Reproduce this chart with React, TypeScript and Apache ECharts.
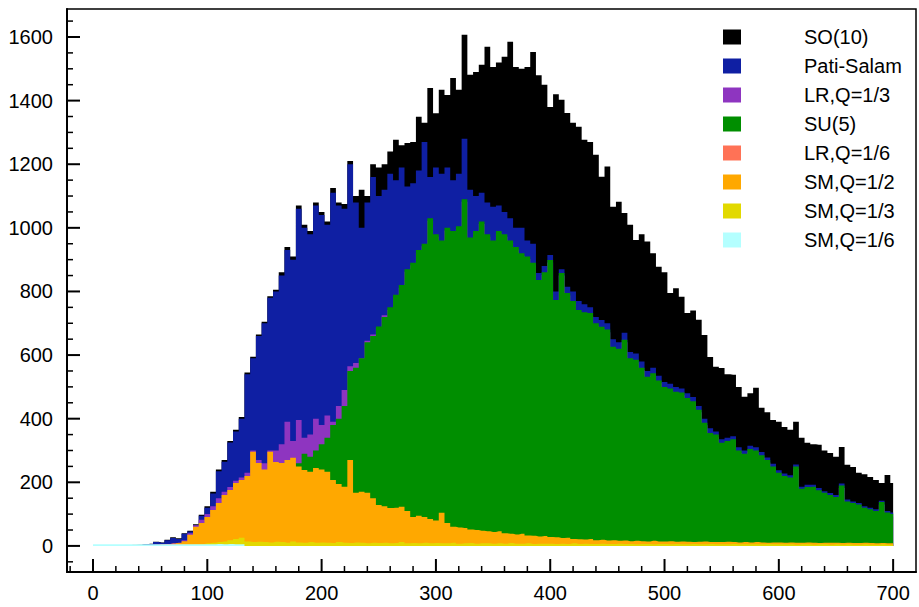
import React, { useEffect, useRef } from "react";
import * as echarts from "echarts";

// Histogram bins: first bin centre and bin width (x units)
const BIN_START = 0;
const BIN_WIDTH = 5;

const seriesNames = ["SO(10)", "Pati-Salam", "LR,Q=1/3", "SU(5)", "LR,Q=1/6", "SM,Q=1/2", "SM,Q=1/3", "SM,Q=1/6"];
const seriesColors = ["#000000", "#0f1fa3", "#8e35c0", "#008e00", "#ff7256", "#ffa800", "#e2d900", "#b4ffff"];

const so10 = [
  0, 0, 0, 0, 0,
  1, 2, 3, 4, 5, 7, 13, 11, 19, 27, 24, 40, 48, 68, 98,
  125, 170, 240, 270, 330, 365, 405, 545, 595, 665,
  705, 785, 805, 860, 940, 910, 1070, 1010, 990, 1080,
  1050, 1020, 1125, 1080, 1075, 1210, 1100, 1120, 1100, 1200,
  1190, 1200, 1240, 1277, 1260, 1267, 1270, 1349, 1330, 1440,
  1360, 1434, 1418, 1471, 1434, 1607, 1481, 1490, 1513, 1569,
  1506, 1520, 1538, 1585, 1506, 1500, 1506, 1553, 1480, 1450,
  1380, 1420, 1403, 1361, 1330, 1318, 1277, 1270, 1230, 1161,
  1193, 1066, 1082, 1047, 1010, 962, 980, 957, 920, 878,
  860, 795, 810, 783, 732, 740, 711, 663, 594, 563,
  559, 540, 538, 500, 469, 480, 497, 434, 420, 396,
  390, 374, 365, 390, 340, 324, 320, 318, 300, 292,
  280, 311, 255, 248, 230, 225, 217, 207, 198, 223,
  198,
];

const patiSalam = [
  0, 0, 0, 0, 0,
  1, 2, 3, 3, 5, 6, 12, 10, 18, 25, 22, 38, 45, 65, 95,
  120, 165, 235, 265, 325, 360, 400, 540, 590, 660,
  700, 780, 800, 850, 930, 900, 1060, 1000, 980, 1070,
  1040, 1010, 1110, 1070, 1060, 1200, 1080, 1000, 1080, 1160,
  1100, 1120, 1170, 1150, 1190, 1130, 1140, 1180, 1270, 1160,
  1190, 1170, 1190, 1150, 1170, 1280, 1120, 1100, 1110, 1080,
  1066, 1070, 1050, 1030, 1000, 1000, 960, 950, 858, 880,
  915, 800, 870, 815, 800, 770, 760, 750, 720, 710,
  700, 650, 640, 670, 610, 605, 580, 550, 560, 535,
  515, 510, 500, 495, 480, 468, 440, 400, 370, 360,
  335, 340, 345, 310, 300, 315, 310, 295, 278, 258,
  238, 228, 222, 256, 186, 192, 192, 182, 172, 166,
  160, 196, 146, 140, 135, 125, 120, 115, 142, 110,
  105,
];

const lrQ13 = [
  0, 0, 0, 0, 0,
  0, 0, 1, 1, 1, 1, 2, 2, 3, 4, 5, 18, 40, 65, 82,
  100, 125, 150, 170, 185, 205, 215, 230, 300, 270,
  260, 300, 300, 320, 390, 330, 396, 340, 350, 400,
  380, 410, 390, 440, 490, 565, 575, 590, 645, 665,
  685, 725, 742, 782, 812, 862, 882, 922, 942, 1022,
  972, 952, 992, 982, 997, 1082, 962, 982, 1012, 972,
  952, 982, 972, 952, 932, 912, 902, 882, 828, 852,
  891, 765, 850, 787, 762, 734, 727, 724, 692, 681,
  672, 618, 612, 640, 582, 577, 552, 524, 535, 512,
  492, 487, 477, 474, 457, 447, 420, 379, 347, 342,
  316, 322, 327, 292, 282, 297, 292, 277, 262, 242,
  222, 212, 207, 242, 172, 177, 178, 167, 159, 152,
  146, 182, 132, 127, 122, 112, 107, 102, 130, 97,
  92,
];

const su5 = [
  0, 0, 0, 0, 0,
  0, 0, 0, 0, 0, 0, 0, 0, 0, 0, 0, 0, 0, 0, 0,
  5, 10, 20, 30, 40, 55, 70, 85, 100, 120,
  140, 160, 180, 200, 220, 240, 260, 290, 280, 300,
  320, 340, 380, 400, 440, 550, 560, 590, 640, 660,
  690, 720, 750, 790, 820, 870, 890, 930, 950, 1030,
  980, 960, 1000, 990, 1005, 1090, 970, 990, 1020, 980,
  960, 990, 980, 960, 940, 920, 910, 890, 836, 860,
  899, 773, 858, 795, 770, 742, 735, 732, 700, 689,
  680, 626, 620, 648, 590, 585, 560, 532, 543, 520,
  500, 495, 485, 482, 465, 455, 428, 387, 355, 350,
  324, 330, 335, 300, 290, 305, 300, 285, 270, 250,
  230, 220, 215, 250, 180, 185, 186, 175, 167, 160,
  154, 190, 140, 135, 130, 120, 115, 110, 138, 105,
  100,
];

const lrQ16 = [
  0, 0, 0, 0, 0,
  0, 2, 4, 3, 2, 3, 4, 5, 6, 8, 10, 12, 14, 18, 20,
  25, 28, 32, 35, 40, 42, 45, 48, 50, 52,
  50, 52, 55, 52, 50, 48, 46, 45, 44, 42,
  40, 38, 36, 35, 34, 33, 31, 30, 29, 28,
  26, 25, 24, 23, 22, 21, 20, 19, 18, 18,
  17, 16, 15, 15, 14, 14, 13, 13, 12, 12,
  11, 11, 10, 10, 10, 9, 9, 9, 8, 8,
  8, 8, 7, 7, 7, 7, 6, 6, 6, 6,
  6, 6, 5, 5, 5, 5, 5, 5, 5, 5,
  4, 4, 4, 4, 4, 4, 4, 4, 4, 4,
  4, 4, 4, 4, 3, 3, 3, 3, 3, 3,
  3, 3, 3, 3, 3, 3, 3, 3, 3, 3,
  3, 3, 2, 2, 2, 2, 2, 2, 2, 2,
  2,
];

const smQ12 = [
  0, 0, 0, 0, 0,
  0, 0, 0, 0, 0, 0, 0, 0, 0, 3, 8, 15, 35, 60, 72,
  91, 113, 135, 160, 176, 198, 207, 220, 296, 261,
  240, 296, 264, 261, 270, 277, 250, 239, 233, 245,
  240, 233, 207, 195, 186, 270, 167, 170, 167, 150,
  129, 125, 119, 120, 123, 110, 91, 95, 91, 85,
  80, 104, 72, 60, 58, 56, 52, 50, 48, 46,
  44, 46, 40, 38, 36, 38, 33, 32, 30, 31,
  28, 27, 25, 26, 22, 21, 20, 22, 18, 19,
  17, 18, 16, 17, 15, 16, 15, 14, 16, 14,
  14, 15, 13, 14, 13, 12, 13, 14, 12, 12,
  12, 13, 12, 11, 12, 11, 12, 11, 10, 11,
  11, 10, 11, 10, 10, 11, 10, 9, 10, 10,
  10, 9, 10, 9, 9, 10, 9, 8, 9, 8,
  8,
];

const smQ13 = [
  0, 0, 0, 0, 0,
  0, 0, 0, 0, 0, 0, 0, 0, 0, 1, 2, 3, 4, 5, 6,
  8, 10, 12, 14, 18, 22, 26, 14, 12, 13,
  12, 11, 13, 12, 10, 14, 11, 10, 12, 10,
  11, 10, 9, 12, 10, 9, 11, 10, 8, 10,
  9, 10, 8, 9, 12, 8, 9, 8, 10, 8,
  9, 8, 8, 10, 7, 8, 9, 7, 8, 8,
  7, 8, 7, 9, 7, 7, 8, 6, 7, 7,
  7, 6, 7, 6, 8, 6, 7, 6, 6, 7,
  6, 6, 7, 6, 6, 5, 6, 6, 5, 6,
  6, 5, 6, 5, 5, 6, 5, 5, 6, 5,
  5, 5, 6, 5, 5, 5, 5, 5, 6, 5,
  5, 5, 5, 4, 5, 5, 4, 5, 5, 4,
  5, 4, 5, 4, 4, 5, 4, 4, 5, 4,
  4,
];

const smQ16 = [
  5, 5, 5, 5, 5,
  5, 5, 5, 5, 5, 5, 5, 5, 5, 5, 5, 5, 5, 5, 5,
  5, 5, 6, 5, 6, 5, 5, 0, 0, 0,
  0, 0, 0, 0, 0, 0, 0, 0, 0, 0,
  0, 0, 0, 0, 0, 0, 0, 0, 0, 0,
  0, 0, 0, 0, 0, 0, 0, 0, 0, 0,
  0, 0, 0, 0, 0, 0, 0, 0, 0, 0,
  0, 0, 0, 0, 0, 0, 0, 0, 0, 0,
  0, 0, 0, 0, 0, 0, 0, 0, 0, 0,
  0, 0, 0, 0, 0, 0, 0, 0, 0, 0,
  0, 0, 0, 0, 0, 0, 0, 0, 0, 0,
  0, 0, 0, 0, 0, 0, 0, 0, 0, 0,
  0, 0, 0, 0, 0, 0, 0, 0, 0, 0,
  0, 0, 0, 0, 0, 0, 0, 0, 0, 0,
  0,
];

const seriesValues = [so10, patiSalam, lrQ13, su5, lrQ16, smQ12, smQ13, smQ16];

const xTickValues = [0, 100, 200, 300, 400, 500, 600, 700];
const yTickValues = [0, 200, 400, 600, 800, 1000, 1200, 1400, 1600];
const xMinorStep = 20;
const yMinorStep = 50;

const X_MIN = -22.75;
const X_MAX = 720;
const Y_MIN = -82;
const Y_MAX = 1688;

const FONT = "'Liberation Sans', Arial, Helvetica, sans-serif";

function minorValues(min: number, max: number, step: number, majors: number[]) {
  const out: number[] = [];
  for (let v = Math.ceil(min / step) * step; v < max; v += step) {
    if (!majors.includes(v)) out.push(v);
  }
  return out;
}

export default function App() {
  const ref = useRef<HTMLDivElement>(null);
  useEffect(() => {
    if (!ref.current) return;
    const chart = echarts.init(ref.current, null, { renderer: "svg" });
    const xMinor = minorValues(X_MIN, X_MAX - 1, xMinorStep, xTickValues);
    const yMinor = minorValues(Y_MIN, Y_MAX - 1, yMinorStep, yTickValues);

    const series = seriesNames.map((name, si) => ({
      name,
      type: "line",
      step: "middle",
      symbol: "none",
      silent: true,
      color: seriesColors[si],
      itemStyle: { color: seriesColors[si] },
      lineStyle: { width: 0, color: seriesColors[si] },
      areaStyle: { color: seriesColors[si], opacity: 1 },
      data: seriesValues[si].map((v, i) => [BIN_START + i * BIN_WIDTH, v]),
    }));

    const labelStyle = { color: "#000", fontFamily: FONT, fontSize: 20 };

    chart.setOption({
      animation: false,
      backgroundColor: "#ffffff",
      grid: {
        left: 67,
        top: 9,
        right: 3,
        bottom: 35,
        show: true,
        borderColor: "#000",
        borderWidth: 1.5,
        backgroundColor: "transparent",
      },
      legend: {
        data: seriesNames,
        orient: "vertical",
        left: 723,
        top: 27,
        padding: 0,
        itemWidth: 18,
        itemHeight: 15,
        itemGap: 9,
        icon: "rect",
        selectedMode: false,
        formatter: (name: string) => `{t|${name}}`,
        textStyle: {
          ...labelStyle,
          rich: { t: { ...labelStyle, lineHeight: 20, padding: [0, 0, 0, 58] } },
        },
      },
      xAxis: {
        type: "value",
        min: X_MIN,
        max: X_MAX,
        position: "bottom",
        axisLine: { show: true, onZero: false, lineStyle: { color: "#000", width: 2 } },
        axisTick: { show: false },
        axisLabel: {
          show: true,
          customValues: xTickValues,
          formatter: (v: number) => String(v),
          ...labelStyle,
          margin: 11,
        },
        splitLine: { show: false },
      },
      yAxis: {
        type: "value",
        min: Y_MIN,
        max: Y_MAX,
        position: "left",
        axisLine: { show: true, onZero: false, lineStyle: { color: "#000", width: 2 } },
        axisTick: { show: false },
        axisLabel: {
          show: true,
          customValues: yTickValues,
          formatter: (v: number) => String(v),
          ...labelStyle,
          margin: 14,
        },
        splitLine: { show: false },
      },
      series,
    });

    // Inward-pointing ticks placed through the axes' own scales
    const gx0 = chart.convertToPixel({ xAxisIndex: 0 }, X_MIN) as number;
    const gy0 = chart.convertToPixel({ yAxisIndex: 0 }, Y_MIN) as number;
    const ticks: any[] = [];
    const addX = (vals: number[], len: number, w: number) =>
      vals.forEach((v) => {
        const px = chart.convertToPixel({ xAxisIndex: 0 }, v) as number;
        ticks.push({ type: "line", silent: true, z: 50, shape: { x1: px, y1: gy0, x2: px, y2: gy0 - len }, style: { stroke: "#000", lineWidth: w } });
      });
    const addY = (vals: number[], len: number, w: number) =>
      vals.forEach((v) => {
        const py = chart.convertToPixel({ yAxisIndex: 0 }, v) as number;
        ticks.push({ type: "line", silent: true, z: 50, shape: { x1: gx0, y1: py, x2: gx0 + len, y2: py }, style: { stroke: "#000", lineWidth: w } });
      });
    addX(xTickValues, 13, 2);
    addX(xMinor, 6, 1.5);
    addY(yTickValues, 13, 2);
    addY(yMinor, 6, 1.5);
    chart.setOption({ graphic: ticks });

    return () => chart.dispose();
  }, []);

  return (
    <div
      ref={ref}
      style={{ position: "fixed", left: 0, top: 0, width: 919, height: 607, background: "#fff" }}
    />
  );
}
